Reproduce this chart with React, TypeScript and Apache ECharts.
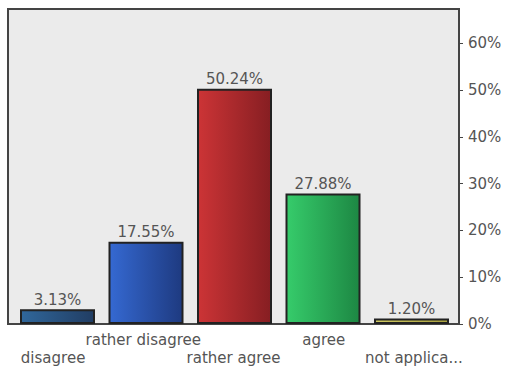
import React, { useEffect, useRef } from "react";
import * as echarts from "echarts";

// Survey answers (as shown on the axis) and their share of responses (percent)
const categories = ["disagree", "rather disagree", "rather agree", "agree", "not applica..."];
const shares = [3.13, 17.55, 50.24, 27.88, 1.2];
// Left (light) and right (dark) stop of each bar's horizontal gradient
const lightColors = ["#30679b", "#3569d2", "#cc3436", "#36cc6b", "#d0ca62"];
const darkColors = ["#213d63", "#1e3a80", "#861e22", "#1d8743", "#a8a03e"];
const yTicks = [0, 10, 20, 30, 40, 50, 60];

const Y_MAX = 67.3;
const FONT = "DejaVu Sans";
const TEXT = "#555555";

export default function App() {
  const ref = useRef<HTMLDivElement>(null);

  useEffect(() => {
    if (!ref.current) return;
    const chart = echarts.init(ref.current, null, { renderer: "svg" });

    const barData = shares.map((v, i) => ({
      value: v,
      itemStyle: {
        color: new echarts.graphic.LinearGradient(0, 0, 1, 0, [
          { offset: 0, color: lightColors[i] },
          { offset: 1, color: darkColors[i] },
        ]),
      },
    }));

    chart.setOption({
      animation: false,
      backgroundColor: "#ffffff",
      grid: [
        {
          left: 8,
          top: 9,
          width: 451,
          height: 315,
          show: true,
          backgroundColor: "#ebebeb",
          borderColor: "#444444",
          borderWidth: 2,
        },
        { left: 13.25, top: 9, width: 442.5, height: 315 },
      ],
      xAxis: [
        {
          type: "category",
          gridIndex: 0,
          data: categories,
          axisLine: { show: true, lineStyle: { color: "#444444", width: 2 } },
          axisTick: { show: false },
          axisLabel: {
            interval: 0,
            margin: 7,
            color: TEXT,
            fontFamily: FONT,
            fontSize: 15,
            lineHeight: 18,
            // alternate labels between two rows so they do not collide
            formatter: (v: string, i: number) => (i % 2 === 0 ? "\n" + v : v),
          },
        },
        {
          type: "category",
          gridIndex: 1,
          data: categories,
          show: false,
        },
      ],
      yAxis: [
        {
          type: "value",
          gridIndex: 0,
          position: "right",
          min: 0,
          max: Y_MAX,
          interval: 10,
          axisLine: { show: true, lineStyle: { color: "#444444", width: 2 } },
          axisTick: { show: true, length: 4, lineStyle: { color: "#444444" } },
          splitLine: { show: false },
          axisLabel: {
            margin: 9,
            color: TEXT,
            fontFamily: FONT,
            fontSize: 15,
            showMaxLabel: false,
            formatter: (v: number) => (yTicks.includes(v) ? v + "%" : ""),
          },
        },
        {
          type: "value",
          gridIndex: 1,
          min: 0,
          max: Y_MAX,
          show: false,
        },
      ],
      series: [
        {
          type: "bar",
          xAxisIndex: 1,
          yAxisIndex: 1,
          barWidth: 75,
          data: barData,
          itemStyle: { borderColor: "#222222", borderWidth: 2 },
          label: {
            show: true,
            position: "top",
            distance: 2,
            color: TEXT,
            fontFamily: FONT,
            fontSize: 15,
            formatter: (p: any) => Number(p.value).toFixed(2) + "%",
          },
        },
      ],
    });

    return () => chart.dispose();
  }, []);

  return (
    <div
      ref={ref}
      style={{ position: "fixed", left: 0, top: 0, width: 507, height: 369 }}
    />
  );
}
